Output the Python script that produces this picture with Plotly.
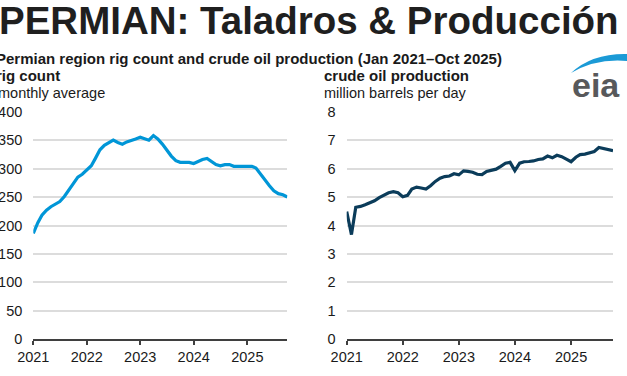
import plotly.graph_objects as go
import pandas as pd

# ---- data ----
months = pd.date_range("2021-01-01", "2025-10-01", freq="MS")

rig_count = [186, 205, 218, 227, 233, 237, 242, 251, 262, 272, 285, 290,
             298, 305, 318, 333, 341, 346, 350, 346, 343, 347, 349, 352,
             355, 352, 350, 358, 352, 343, 333, 322, 314, 311, 311, 311,
             309, 313, 316, 318, 312, 307, 305, 307, 307, 304, 304, 304,
             303, 304, 301, 290, 281, 270, 261, 256, 254, 250]

oil_production = [4.49, 3.68, 4.64, 4.67, 4.73, 4.80, 4.87, 4.98, 5.08, 5.15, 5.19, 5.15,
                  5.01, 5.06, 5.28, 5.35, 5.32, 5.28, 5.40, 5.55, 5.66, 5.72, 5.74, 5.82,
                  5.78, 5.92, 5.90, 5.87, 5.80, 5.79, 5.90, 5.95, 5.98, 6.08, 6.19, 6.22,
                  5.93, 6.19, 6.24, 6.25, 6.27, 6.32, 6.34, 6.44, 6.38, 6.47, 6.42, 6.33,
                  6.24, 6.40, 6.49, 6.51, 6.55, 6.60, 6.74, 6.70, 6.67, 6.63]

year_ticks = ["2021-01-01", "2022-01-01", "2023-01-01", "2024-01-01", "2025-01-01"]
year_labels = ["2021", "2022", "2023", "2024", "2025"]
rig_ticks = [0, 50, 100, 150, 200, 250, 300, 350, 400]
prod_ticks = [0, 1, 2, 3, 4, 5, 6, 7, 8]

title_text = "PERMIAN: Taladros &amp; Producción"
subtitle_text = "Permian region rig count and crude oil production (Jan 2021–Oct 2025)"

# ---- layout helpers (pixel -> paper) ----
W, H = 627, 376
def px(x):
    return x / W
def py(y):
    return 1 - y / H

FONT = "Liberation Sans, Arial, sans-serif"
TXT = "#1a1a1a"

fig = go.Figure()
fig.add_trace(go.Scatter(x=months, y=rig_count, mode="lines",
                         line=dict(color="#0096d7", width=3.2, shape="linear"),
                         xaxis="x", yaxis="y", showlegend=False, hoverinfo="skip"))
fig.add_trace(go.Scatter(x=months, y=oil_production, mode="lines",
                         line=dict(color="#0b3c5a", width=3.2),
                         xaxis="x2", yaxis="y2", showlegend=False, hoverinfo="skip"))

xcommon = dict(type="date", range=["2021-01-01", "2025-10-01"],
               tickvals=year_ticks, ticktext=year_labels,
               showgrid=False, zeroline=False, showline=True,
               linecolor="#3f3f3f", linewidth=1.5,
               ticks="outside", ticklen=4, tickwidth=1.5, tickcolor="#3f3f3f",
               tickfont=dict(family=FONT, size=14.5, color=TXT),
               automargin=False, fixedrange=True)
ycommon = dict(showgrid=True, gridcolor="#dcdcdc", gridwidth=1.5,
               zeroline=False, showline=False, ticks="",
               ticklabelstandoff=10,
               tickfont=dict(family=FONT, size=14.5, color=TXT),
               automargin=False, fixedrange=True)

ydom = [py(339.3), py(111.7)]
fig.update_layout(
    width=W, height=H,
    margin=dict(l=0, r=0, t=0, b=0),
    paper_bgcolor="white", plot_bgcolor="white",
    template="none",
    xaxis=dict(domain=[px(33.3), px(287.3)], anchor="y", **xcommon),
    yaxis=dict(domain=ydom, anchor="x", range=[0, 400], tickvals=rig_ticks, **ycommon),
    xaxis2=dict(domain=[px(346.7), px(613)], anchor="y2", **xcommon),
    yaxis2=dict(domain=ydom, anchor="x2", range=[0, 8], tickvals=prod_ticks, **ycommon),
)

def note(text, x, y, size, bold=False, color=TXT, anchor="left"):
    fig.add_annotation(text=f"<b>{text}</b>" if bold else text,
                       xref="paper", yref="paper", x=px(x), y=py(y),
                       xanchor=anchor, yanchor="middle", showarrow=False,
                       font=dict(family=FONT, size=size, color=color))

note(title_text, -3, 21, 38.5, bold=True, color="#1f1f1f")
note(subtitle_text, -6, 58, 15, bold=True)
note("rig count", -6, 75, 15, bold=True)
note("monthly average", -4.5, 93, 14.5)
note("crude oil production", 322, 75, 15, bold=True)
note("million barrels per day", 322, 93, 14.5)

# eia logo
note("eia", 570, 85, 34, bold=True, color="#58595b")
fig.add_shape(type="path", xref="paper", yref="paper",
              path=(f"M {px(571)} {py(73)} "
                    f"Q {px(592)} {py(53)} {px(628)} {py(54)} "
                    f"L {px(628)} {py(61)} "
                    f"Q {px(596)} {py(58)} {px(571)} {py(73)} Z"),
              fillcolor="#1b9ad6", line=dict(width=0))

fig.write_html("out.html",
               config={"displayModeBar": False},
               post_script="document.body.style.margin='0';document.body.style.padding='0';")
